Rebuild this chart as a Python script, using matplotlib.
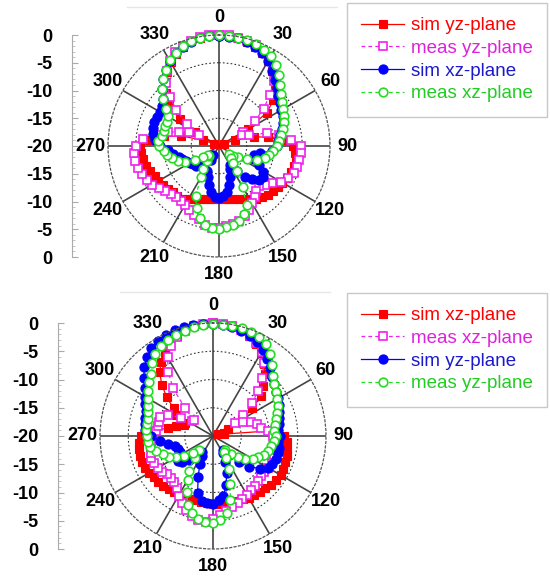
import numpy as np
import matplotlib
matplotlib.use("Agg")
import matplotlib.pyplot as plt
from matplotlib.ticker import MultipleLocator

plt.rcParams['font.family'] = ['Liberation Sans', 'DejaVu Sans']

# ---------------- data ----------------
angles_deg = list(range(0, 360, 5))
theta_labels = ["0", "30", "60", "90", "120", "150", "180", "210", "240", "270", "300", "330"]
left_ticks = [20, 15, 10, 5, 0, -5, -10, -15, -20]
left_labels = ["0", "-5", "-10", "-15", "-20", "-15", "-10", "-5", "0"]

# top chart
top_names = ["sim yz-plane", "meas yz-plane", "sim xz-plane", "meas xz-plane"]
top_sim_yz = [0, -0.1, -0.3, -0.6, -1.0, -1.6, -2.4, -3.4, -4.5, -5.8, -7.2, -9.5,
              -14, -19, -17, -13.5, -11, -8.5, -6.7, -6.2, -6.0, -6.0, -6.2, -6.4,
              -6.8, -7.0, -7.3, -7.6, -8.0, -8.4, -9.0, -9.5, -9.8, -10.1, -10.3, -10.4,
              -10.5, -10.4, -10.3, -10.1, -9.8, -9.5, -9.0, -8.4, -8.3, -8.2, -8.0, -7.7,
              -7.4, -7.2, -6.8, -6.4, -6.1, -5.9, -5.8, -7.3, -10, -13, -17, -19,
              -15, -11.4, -8.3, -6.4, -5.0, -3.8, -2.6, -1.7, -1.0, -0.5, -0.2, 0]
top_meas_yz = [0, 0, -0.2, -0.4, -0.7, -1.1, -1.6, -2.8, -4.6, -7.0, -9.5, -12,
               -15, -15.5, -14.2, -11, -9.0, -7.0, -5.2, -5.2, -5.3, -5.4, -5.6, -6.3,
               -7.0, -8.3, -9.2, -9.8, -9.5, -8.8, -8.1, -7.2, -6.5, -6.1, -5.8, -5.5,
               -5.3, -5.2, -5.6, -6.3, -6.7, -7.2, -7.8, -8.0, -7.9, -7.7, -7.3, -6.7,
               -6.1, -5.7, -5.3, -4.9, -4.7, -4.7, -5.0, -6.3, -8.5, -10.5, -12.4, -14,
               -15.9, -13, -10, -7.5, -5.2, -3.6, -2.3, -1.4, -0.8, -0.4, -0.1, 0]
top_sim_xz = [-0.1, -0.2, -0.3, -0.6, -1.0, -1.5, -2.4, -3.4, -4.4, -5.3, -6.1, -6.6,
              -7.0, -7.3, -7.7, -8.2, -8.8, -9.3, -9.6, -10.5, -12.5, -13.5, -13.3, -12.0,
              -10.8, -10.4, -10.5, -11.5, -12.8, -14.5, -16, -15.5, -14, -12.8, -11.6, -10.9,
              -10.7, -10.7, -11.5, -12.8, -14, -15, -17, -18, -17, -15.5, -14.5, -14.2,
              -14, -13.5, -13, -12.5, -11.5, -10.8, -9.4, -8.5, -7.9, -7.6, -7.5, -7.6,
              -7.7, -7.4, -6.8, -5.4, -4.3, -3.3, -2.3, -1.6, -1.0, -0.6, -0.3, -0.1]
top_meas_xz = [0, -0.1, -0.2, -0.3, -0.5, -0.9, -1.3, -2.2, -3.3, -4.5, -5.5, -6.1,
               -6.6, -7.1, -7.6, -8.0, -8.6, -9.1, -9.6, -10.3, -10.8, -11.4, -12.8, -14.5,
               -16, -17, -17.7, -17, -16, -14.5, -11.5, -8.2, -7.0, -6.1, -5.6, -5.3,
               -5.1, -5.2, -5.6, -6.5, -8.2, -10, -13.5, -15, -16.5, -17.5, -17.5, -16.5,
               -15, -13.2, -12.2, -11.3, -10.5, -10, -9.2, -9.0, -9.5, -9.7, -9.7, -9.6,
               -9.3, -8.3, -6.8, -5.5, -4.2, -3.2, -2.2, -1.5, -0.9, -0.5, -0.2, -0.1]

# bottom chart
bot_names = ["sim xz-plane", "meas xz-plane", "sim yz-plane", "meas yz-plane"]
bot_sim_xz = [0, -0.1, -0.3, -0.6, -1.2, -2.0, -3.0, -4.4, -5.6, -7.5, -9.0, -11.5,
              -14, -17, -19, -18, -18, -8.8, -7.5, -6.9, -6.7, -6.5, -6.4, -6.3,
              -6.2, -6.3, -6.6, -7.0, -7.1, -7.2, -7.4, -7.6, -7.7, -7.7, -7.7, -7.9,
              -8.0, -8.1, -8.2, -8.2, -8.1, -8.0, -7.9, -7.9, -7.8, -7.6, -7.3, -7.2,
              -7.0, -6.8, -6.6, -6.6, -6.7, -6.8, -7.2, -9, -12, -13.3, -14.5, -14.5,
              -12.5, -11.5, -9.3, -7.2, -5.3, -4.0, -3.0, -2.0, -1.2, -0.6, -0.3, -0.1]
bot_meas_xz = [0, -0.1, -0.3, -0.6, -1.1, -1.8, -2.8, -4.3, -6.5, -8.8, -11, -13.5,
               -15.5, -14.1, -12.8, -12, -11.4, -10.2, -9.3, -8.8, -8.6, -8.5, -8.5, -8.5,
               -8.8, -9.0, -8.9, -8.7, -8.5, -8.4, -8.0, -7.7, -7.3, -7.0, -6.6, -6.0,
               -5.3, -4.8, -4.9, -5.4, -6.1, -7.0, -7.8, -8.8, -9.3, -9.6, -9.4, -9.0,
               -8.8, -8.5, -8.4, -8.6, -8.8, -8.9, -9.3, -9.8, -10.2, -10.1, -10.1, -11.2,
               -13.5, -15.5, -15.5, -13, -9.0, -6.2, -3.9, -2.5, -1.4, -0.7, -0.3, -0.1]
bot_sim_yz = [-0.1, -0.2, -0.4, -0.7, -1.1, -1.6, -2.4, -3.4, -4.4, -5.2, -5.8, -6.3,
              -6.7, -7.1, -7.5, -7.9, -8.2, -8.4, -8.2, -8.4, -8.1, -8.1, -8.2, -8.4,
              -8.8, -9.9, -11.6, -13.5, -15.5, -17, -16.5, -15, -13, -11, -9.3, -8.6,
              -8.0, -8.1, -8.3, -9.5, -12.3, -14.5, -16, -16.5, -15.5, -14, -12.8, -12.4,
              -13, -13.5, -13.4, -13, -12, -10.5, -9.0, -8.0, -7.8, -7.6, -7.3, -6.8,
              -6.2, -5.2, -4.0, -2.8, -1.8, -1.0, -0.5, -0.2, -0.1, -0.1, -0.1, -0.1]
bot_meas_yz = [-0.1, -0.2, -0.2, -0.2, -0.4, -0.6, -1.1, -2.3, -3.7, -4.9, -5.8, -6.4,
               -7.0, -7.4, -7.9, -8.4, -8.8, -9.1, -8.9, -9.1, -9.6, -10.0, -10.4, -11.2,
               -11.9, -13.0, -14.3, -15.5, -16.8, -16.5, -15.5, -13.5, -11.0, -8.2, -6.2, -5.1,
               -4.6, -4.7, -5.1, -5.9, -7.0, -9.0, -11.0, -12.5, -15, -16.5, -15.3, -13.8,
               -12.4, -11.4, -10.5, -9.6, -8.6, -8.4, -8.3, -8.1, -8.1, -8.1, -7.8, -7.4,
               -6.8, -6.0, -5.2, -4.4, -3.2, -2.2, -1.6, -1.3, -1.0, -0.7, -0.4, -0.3]

# ---------------- styles ----------------
styles = [
    dict(color='#ff0000', ls='-', lw=0.9, marker='s', ms=5.6, mfc='#ff0000', mec='#ff0000', mew=0.8),
    dict(color='#ee22ee', ls=(0, (3, 2.5)), lw=0.9, marker='s', ms=5.6, mfc='white', mec='#ee22ee', mew=1.2),
    dict(color='#0000ff', ls='-', lw=0.9, marker='o', ms=6.6, mfc='#0000ff', mec='#0000ff', mew=0.8),
    dict(color='#22dd22', ls=(0, (3, 2.5)), lw=0.9, marker='o', ms=6.2, mfc='white', mec='#22dd22', mew=1.2),
]
text_colors = ['#ff0000', '#dd22dd', '#1a1acc', '#22cc22']

W, H = 550, 578
fig = plt.figure(figsize=(W / 100, H / 100), dpi=100)


def polar_panel(cx, cy, R, series, names, left_x, legend_box):
    ax = fig.add_axes([(cx - R) / W, 1 - (cy + R) / H, 2 * R / W, 2 * R / H], projection='polar')
    ax.set_theta_zero_location('N')
    ax.set_theta_direction(-1)
    ax.set_rlim(-20, 0)
    ax.set_rgrids([-15, -10, -5], labels=[''] * 3)
    ax.set_thetagrids(list(range(0, 360, 30)), labels=theta_labels,
                      fontsize=13, fontweight='bold')
    ax.tick_params(axis='x', pad=2)
    ax.xaxis.grid(True, color='#444444', ls='-', lw=1.2)
    ax.yaxis.grid(True, color='#333333', ls=(0, (1.5, 2)), lw=0.8)
    ax.spines['polar'].set_color('#555555')
    ax.spines['polar'].set_linestyle((0, (1.5, 2)))
    ax.spines['polar'].set_linewidth(0.9)
    th = np.deg2rad(np.append(angles_deg, angles_deg[0]))
    handles = []
    for vals, st, nm in zip(series, styles, names):
        v = np.clip(np.append(vals, vals[0]), -20, 0)
        h, = ax.plot(th, v, label=nm, clip_on=False, **st)
        handles.append(h)
    # left dB scale
    lax = fig.add_axes([left_x / W, 1 - (cy + R) / H, 0.001, 2 * R / H])
    lax.set_ylim(-20, 20)
    for s in ['top', 'right', 'bottom']:
        lax.spines[s].set_visible(False)
    lax.spines['left'].set_color('#aaaaaa')
    lax.set_xticks([])
    lax.set_yticks(left_ticks)
    lax.set_yticklabels(left_labels, fontsize=13, fontweight='bold')
    lax.yaxis.set_minor_locator(MultipleLocator(1))
    lax.tick_params(axis='y', which='major', direction='in', length=4, color='#aaaaaa', pad=14)
    lax.tick_params(axis='y', which='minor', direction='in', length=2.5, color='#bbbbbb')
    lax.patch.set_visible(False)
    # legend
    leg = fig.legend(handles=handles, loc='upper left',
                     bbox_to_anchor=(legend_box[0] / W, 1 - legend_box[1] / H),
                     fontsize=13.5, frameon=True, fancybox=False, edgecolor='#c8c8c8',
                     framealpha=1, handlelength=2.3, handletextpad=0.35, labelspacing=0.3,
                     borderpad=0.75, numpoints=1, borderaxespad=0)
    for t, c in zip(leg.get_texts(), text_colors):
        t.set_color(c)
    leg.get_frame().set_linewidth(1.0)
    return ax


polar_panel(219, 146, 111, [top_sim_yz, top_meas_yz, top_sim_xz, top_meas_xz], top_names, 72, (347, 3))
polar_panel(213, 436, 113, [bot_sim_xz, bot_meas_xz, bot_sim_yz, bot_meas_yz], bot_names, 58, (347, 293))

# faint frame lines at the top of each panel
fig.add_artist(plt.Line2D([127 / W, 337 / W], [1 - 7 / H, 1 - 7 / H], color='#e6e6e6', lw=1))
fig.add_artist(plt.Line2D([120 / W, 330 / W], [1 - 292 / H, 1 - 292 / H], color='#e6e6e6', lw=1))

fig.savefig('out.png', dpi=100)
